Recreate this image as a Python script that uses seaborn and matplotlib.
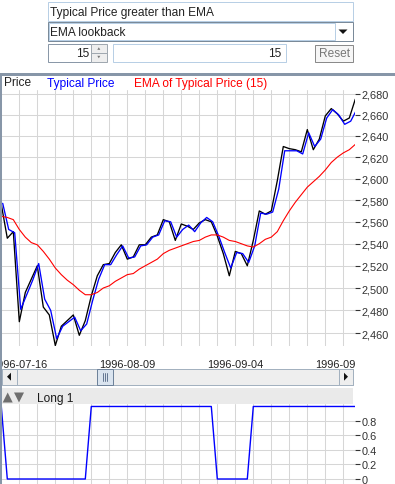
import numpy as np
import pandas as pd
import matplotlib
matplotlib.use('Agg')
import matplotlib.pyplot as plt
import seaborn as sns
from matplotlib.patches import Rectangle, Polygon
from matplotlib.lines import Line2D
from matplotlib.ticker import FixedLocator, NullLocator, FuncFormatter
from matplotlib.transforms import Bbox, TransformedBbox, offset_copy

# ---------------- data ----------------
price = [2576, 2545, 2551, 2470, 2496, 2508, 2520, 2483, 2476, 2449,
         2466, 2471, 2476, 2458, 2471, 2493, 2511, 2521, 2522, 2532,
         2539, 2526, 2528, 2539, 2539, 2546, 2548, 2562, 2560, 2543,
         2558, 2556, 2553, 2559, 2562, 2560, 2547, 2531, 2511, 2533,
         2531, 2520, 2543, 2570, 2567, 2570, 2598, 2630, 2628, 2627,
         2625, 2646, 2627, 2637, 2659, 2666, 2661, 2654, 2657, 2675]
typical = [2577, 2553, 2550, 2481, 2494, 2507, 2522, 2490, 2480, 2455,
           2466, 2470, 2474, 2462, 2468, 2489, 2508, 2521, 2521, 2530,
           2538, 2527, 2528, 2538, 2539, 2546, 2548, 2561, 2560, 2546,
           2553, 2557, 2551, 2559, 2564, 2560, 2547, 2532, 2518, 2532,
           2531, 2523, 2538, 2568, 2567, 2569, 2590, 2626, 2626, 2626,
           2623, 2643, 2630, 2637, 2657, 2665, 2660, 2651, 2654, 2665]
ema = [2565, 2564, 2562, 2553, 2546, 2541, 2539, 2533, 2526, 2518,
       2512, 2507, 2503, 2498, 2494, 2494, 2496, 2500, 2502, 2506,
       2509, 2512, 2513, 2517, 2520, 2523, 2526, 2531, 2534, 2536,
       2538, 2540, 2542, 2543, 2546, 2548, 2548, 2546, 2543, 2542,
       2540, 2538, 2537, 2540, 2544, 2546, 2551, 2561, 2570, 2578,
       2585, 2592, 2597, 2602, 2608, 2615, 2620, 2624, 2627, 2632]
long_signal = [1, 0, 0, 0, 0, 0, 0, 0, 0, 0,
               0, 0, 0, 0, 0, 1, 1, 1, 1, 1,
               1, 1, 1, 1, 1, 1, 1, 1, 1, 1,
               1, 1, 1, 1, 1, 1, 0, 0, 0, 0,
               0, 0, 1, 1, 1, 1, 1, 1, 1, 1,
               1, 1, 1, 1, 1, 1, 1, 1, 1, 1]
date_tick_pos = [3, 21, 39, 57]
date_tick_labels = ['1996-07-16', '1996-08-09', '1996-09-04', '1996-09-30']
price_ticks = [2460, 2480, 2500, 2520, 2540, 2560, 2580, 2600, 2620, 2640, 2660, 2680]
long_ticks = [0, 0.2, 0.4, 0.6, 0.8]
long_tick_labels = ['0', '0.2', '0.4', '0.6', '0.8']
legend_labels = ['Price', 'Typical Price', 'EMA of Typical Price (15)']
header_title = 'Typical Price greater than EMA'
combo_text = 'EMA lookback'
spinner_value = '15'
field_value = '15'
button_text = 'Reset'
panel_title = 'Long 1'

idx = np.arange(len(price))
df = pd.DataFrame({'idx': idx, 'price': price, 'typical': typical,
                   'ema': ema, 'long': long_signal})

# ---------------- style ----------------
sns.set_style('white')
plt.rcParams['font.family'] = ['Liberation Sans', 'DejaVu Sans']

W, H = 395, 485
fig = plt.figure(figsize=(W / 100, H / 100), dpi=100)
fig.patch.set_facecolor('white')
PT = 0.72


def fx(px):
    return px / W


def fy(py):
    return 1 - py / H


def prect(x, y, w, h, fc='none', ec='none', lw=1.0, z=1):
    fig.add_artist(Rectangle((fx(x), fy(y + h)), w / W, h / H,
                             transform=fig.transFigure, facecolor=fc,
                             edgecolor=ec, linewidth=lw * PT, zorder=z))


def ppoly(pts, color, z=3):
    fig.add_artist(Polygon([(fx(a), fy(b)) for a, b in pts], closed=True,
                           transform=fig.transFigure, facecolor=color,
                           edgecolor='none', zorder=z))


def pline(x0, y0, x1, y1, color, lw=1.0, z=3):
    fig.add_artist(Line2D([fx(x0), fx(x1)], [fy(y0), fy(y1)],
                          transform=fig.transFigure, color=color,
                          linewidth=lw * PT, zorder=z))


def ptext(x, y, s, ha='left', color='#222222', size=8.6, z=4):
    fig.text(fx(x), fy(y), s, ha=ha, va='center', color=color,
             fontsize=size, zorder=z)


GRID = '#d6d6d6'
AX_L, AX_R = 1.3, 355.3

# ---------------- top widgets ----------------
prect(47.7, 2.7, 305.6, 19, fc='white', ec='#b8cfe5')
ptext(49.5, 12.6, header_title)

prect(47.7, 23.3, 305.6, 19, fc='white', ec='#7a8a99')
prect(48.7, 24.3, 286.3, 17, fc='white', ec='#b8cfe5')
ppoly([(338.5, 30.5), (347.5, 30.5), (343, 35)], '#111111')
ptext(49.5, 32.8, combo_text)

prect(47.7, 45, 43.3, 17.7, fc='white', ec='#8a98a8')
ptext(89.5, 54.2, spinner_value, ha='right')
prect(91, 45, 15.7, 8.85, fc='#eeeeee', ec='#a0a8b0')
prect(91, 53.85, 15.7, 8.85, fc='#eeeeee', ec='#a0a8b0')
ppoly([(97.3, 50.8), (100.3, 50.8), (98.8, 48.3)], '#777777')
ppoly([(97.3, 56.8), (100.3, 56.8), (98.8, 59.3)], '#777777')

prect(113.3, 45, 172.7, 17.7, fc='white', ec='#b8cfe5')
ptext(281.5, 54.2, field_value, ha='right')

prect(315, 45.5, 38.3, 17, fc='#f6f6f6', ec='#8a8a8a')
ptext(334.2, 54.2, button_text, ha='center', color='#777777')

# panel borders
prect(0, 74.3, W, 2.2, fc='#8796a8')
prect(0, 75, 1.6, H - 75, fc='#8796a8', z=5)

# legend row
ptext(4, 83.5, legend_labels[0], color='#222222')
ptext(47, 83.5, legend_labels[1], color='#0000ff')
ptext(134, 83.5, legend_labels[2], color='#ff0000')

# ---------------- price panel ----------------
ax = fig.add_axes([fx(AX_L), fy(347), (AX_R - AX_L) / W, (347 - 91) / H])
sns.lineplot(data=df, x='idx', y='price', ax=ax, color='black', linewidth=0.95)
sns.lineplot(data=df, x='idx', y='typical', ax=ax, color='#0000ff', linewidth=0.95)
sns.lineplot(data=df, x='idx', y='ema', ax=ax, color='#ff0000', linewidth=0.8)
ax.set_yscale('log')
ax.set_xlim(0, 59)
ax.set_ylim(2448.6, 2683.8)
# the typical-price line is rendered a pixel to the right, as in the source chart
ax.lines[1].set_transform(offset_copy(ax.transData, fig=fig, x=1.4, y=0, units='dots'))
ax.yaxis.set_major_locator(FixedLocator(price_ticks))
ax.yaxis.set_minor_locator(NullLocator())
ax.yaxis.set_major_formatter(FuncFormatter(lambda v, p: f'{v:,.0f}'))
ax.yaxis.tick_right()
ax.tick_params(axis='y', which='major', right=True, left=False,
               direction='out', length=3.3, width=0.8, pad=1.2,
               labelsize=7.9, color='#333333', labelcolor='#333333')
ax.tick_params(axis='y', which='minor', length=0)
ax.set_xticks(np.arange(0, 60, 3))
ax.tick_params(axis='x', length=0, labelbottom=False)
ax.grid(True, which='major', color=GRID, linewidth=0.75)
ax.set_axisbelow(True)
for s in ax.spines.values():
    s.set_visible(False)
ax.set_xlabel('')
ax.set_ylabel('')
ax.set_facecolor('white')

# date axis
axd = fig.add_axes([fx(AX_L), fy(352), (AX_R - AX_L) / W, 0.5 / H])
axd.set_xlim(0, 59)
axd.set_ylim(0, 1)
axd.set_xticks(date_tick_pos)
axd.set_xticklabels(date_tick_labels)
axd.set_yticks([])
for s in axd.spines.values():
    s.set_visible(False)
axd.patch.set_alpha(0)
axd.tick_params(axis='x', direction='out', length=2.9, width=0.8, pad=2.6,
                labelsize=7.9, color='#222222', labelcolor='#222222')
clip = TransformedBbox(Bbox.from_extents(0, 0, 355 / W, 1), fig.transFigure)
for lbl in axd.get_xticklabels():
    lbl.set_clip_box(clip)
    lbl.set_clip_on(True)

# ---------------- scrollbar ----------------
prect(1.7, 369.5, 351.6, 16.3, fc='#eeeeee', ec='#a3b1bf')
prect(1.7, 369.5, 15, 16.3, fc='#eeeeee', ec='#a3b1bf', z=2)
prect(339, 369.5, 14.3, 16.3, fc='#eeeeee', ec='#a3b1bf', z=2)
ppoly([(7, 377.7), (11, 373.7), (11, 381.7)], '#111111')
ppoly([(348, 377.7), (344, 373.7), (344, 381.7)], '#111111')
prect(97, 369.8, 16.5, 15.7, fc='#dae4ef', ec='#6e829a', z=2)
for gx in (103.3, 105.3, 107.3):
    pline(gx, 373.8, gx, 381.6, '#5a6e8a', lw=0.9)

# ---------------- long panel header ----------------
prect(1.6, 389, 351.7, 16, fc='#eaeaea')
ppoly([(2.7, 403.5), (7.7, 393.5), (12.7, 403.5)], '#6e6e6e')
ppoly([(14, 393.5), (24, 393.5), (19, 403.5)], '#6e6e6e')
ptext(37.3, 398.8, panel_title, color='#1a1a1a')

# ---------------- long panel ----------------
axl = fig.add_axes([fx(AX_L), fy(485), (AX_R - AX_L) / W, (485 - 405.3) / H])
sns.lineplot(data=df, x='idx', y='long', ax=axl, color='#0000ff', linewidth=1.0)
axl.set_xlim(0, 59)
axl.set_ylim(-0.069, 1.030)
axl.set_yticks(long_ticks)
axl.set_yticklabels(long_tick_labels)
axl.yaxis.tick_right()
axl.tick_params(axis='y', right=True, left=False, direction='out',
                length=3.3, width=0.8, pad=1.2, labelsize=7.9,
                color='#333333', labelcolor='#333333')
axl.set_xticks(np.arange(0, 60, 3))
axl.tick_params(axis='x', length=0, labelbottom=False)
axl.grid(True, color=GRID, linewidth=0.75)
axl.set_axisbelow(True)
for s in axl.spines.values():
    s.set_visible(False)
axl.set_xlabel('')
axl.set_ylabel('')

fig.savefig('out.png', dpi=100, facecolor='white')
